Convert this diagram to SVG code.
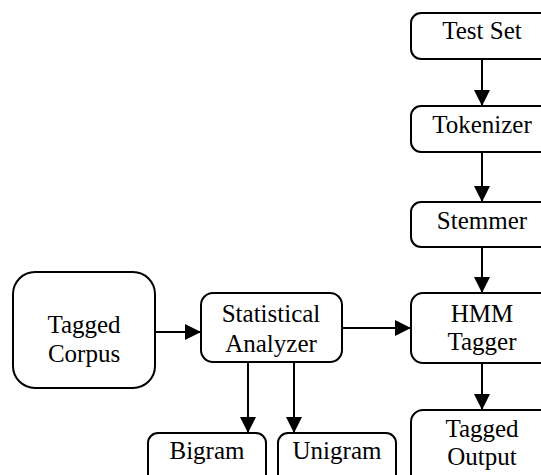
<svg xmlns="http://www.w3.org/2000/svg" width="541" height="475" viewBox="0 0 541 475">
<style>
.box{fill:#fff;stroke:#000;stroke-width:2}
.t{font-family:'Liberation Serif','Times New Roman',serif;font-size:25px;fill:#000;text-anchor:middle}
.c{stroke:#000;stroke-width:2;fill:none;marker-end:url(#ah)}
</style>
<defs>
<marker id="ah" markerUnits="userSpaceOnUse" markerWidth="16" markerHeight="16" viewBox="0 0 16 16" refX="16" refY="8" orient="auto">
<path d="M0,0 L16,8 L0,16 Z" fill="#000"/>
</marker>
</defs>
<rect width="541" height="475" fill="#fff"/>
<g id="connectors">
<line class="c" x1="482" y1="59" x2="482" y2="106"/>
<line class="c" x1="482" y1="152" x2="482" y2="202"/>
<line class="c" x1="482" y1="247" x2="482" y2="293"/>
<line class="c" x1="482" y1="363" x2="482" y2="410"/>
<line class="c" x1="155" y1="332" x2="201" y2="332"/>
<line class="c" x1="342" y1="328" x2="411" y2="328"/>
<line class="c" x1="248" y1="362" x2="248" y2="433"/>
<line class="c" x1="294" y1="362" x2="294" y2="433"/>
</g>
<g id="test-set"><rect class="box" x="411" y="13" width="142" height="46" rx="10"/><text class="t" x="482" y="39">Test Set</text></g>
<g id="tokenizer"><rect class="box" x="411" y="106" width="142" height="46" rx="10"/><text class="t" x="482" y="133">Tokenizer</text></g>
<g id="stemmer"><rect class="box" x="411" y="202" width="142" height="45" rx="10"/><text class="t" x="482" y="229">Stemmer</text></g>
<g id="hmm-tagger"><rect class="box" x="411" y="293" width="142" height="70" rx="12"/><text class="t" x="482" y="322">HMM</text><text class="t" x="482" y="350">Tagger</text></g>
<g id="tagged-output"><rect class="box" x="411" y="410" width="142" height="80" rx="12"/><text class="t" x="482" y="437">Tagged</text><text class="t" x="482" y="465">Output</text></g>
<g id="tagged-corpus"><rect class="box" x="13" y="272" width="142" height="116" rx="22"/><text class="t" x="84" y="333">Tagged</text><text class="t" x="84" y="362">Corpus</text></g>
<g id="statistical-analyzer"><rect class="box" x="201" y="293" width="141" height="69" rx="12"/><text class="t" x="271" y="322">Statistical</text><text class="t" x="271" y="352">Analyzer</text></g>
<g id="bigram"><rect class="box" x="148" y="433" width="118" height="60" rx="10"/><text class="t" x="207" y="459">Bigram</text></g>
<g id="unigram"><rect class="box" x="278" y="433" width="118" height="60" rx="10"/><text class="t" x="337" y="459">Unigram</text></g>
</svg>
